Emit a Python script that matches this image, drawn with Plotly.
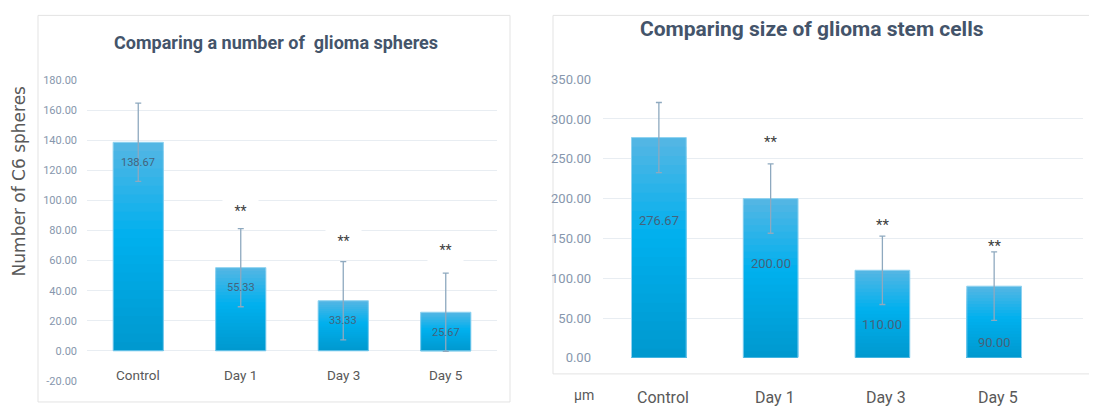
import plotly.graph_objects as go

# ---------------- data ----------------
categories = ["Control", "Day 1", "Day 3", "Day 5"]
spheres_mean = [138.67, 55.33, 33.33, 25.67]
spheres_err = [26, 26, 26, 26]
size_mean = [276.67, 200.00, 110.00, 90.00]
size_err = [44, 43.5, 43, 43]
significance = ["", "**", "**", "**"]
left_ticks = [-20, 0, 20, 40, 60, 80, 100, 120, 140, 160, 180]
right_ticks = [0, 50, 100, 150, 200, 250, 300, 350]
left_title = "Comparing a number of  glioma spheres"
right_title = "Comparing size of glioma stem cells"
left_ylabel = "Number of C6 spheres"
right_unit = "µm"

# ---------------- style / layout ----------------
W, H = 1097, 410
# observed mapping of figure pixels onto the photographed page
OFF_X, OFF_Y, EFF_H = 8, 16, 394
SY = EFF_H / H


def fx(px):
    return (px - OFF_X) / W


def fy(py):
    return 1 - (py - OFF_Y) / EFF_H


FONT = "Roboto, Arial, sans-serif"
TITLE_C = "#44546a"
TICK_C = "#8797ad"
CAT_C = "#595959"
VAL_C = "#44637c"
GRID_C = "#e8edf2"
ERR_C = "#8ea9bf"
BAR_W = 0.49
N_SEG = 24

left_val_shift = [-19, -19, -19, -19]
right_val_shift = [-80, -62, -52, -54]
left_star_shift = [0, 17, 20, 22]
right_star_shift = [0, 21, 11, 6]

stops = [(0.0, (0, 152, 206)), (0.55, (0, 176, 238)), (1.0, (86, 182, 228))]


def grad_color(t):
    for (t0, c0), (t1, c1) in zip(stops[:-1], stops[1:]):
        if t <= t1:
            f = (t - t0) / (t1 - t0)
            c = [round(a + (b - a) * f) for a, b in zip(c0, c1)]
            return "rgb(%d,%d,%d)" % tuple(c)
    return "rgb(%d,%d,%d)" % stops[-1][1]


fig = go.Figure()


def add_bars(vals, errs, xa, ya):
    for k in range(N_SEG):
        frac_top = (N_SEG - k) / N_SEG
        col = grad_color((N_SEG - k - 0.5) / N_SEG)
        fig.add_trace(go.Bar(
            x=categories, y=[v * frac_top for v in vals], width=BAR_W,
            marker=dict(color=col, line=dict(width=0)),
            xaxis=xa, yaxis=ya, showlegend=False, hoverinfo="skip"))
    fig.add_trace(go.Bar(
        x=categories, y=vals, width=BAR_W,
        marker=dict(color="rgba(0,0,0,0)", line=dict(color="#8fd2f0", width=1)),
        error_y=dict(type="data", array=errs, color=ERR_C, thickness=1.3, width=3),
        xaxis=xa, yaxis=ya, showlegend=False))


add_bars(spheres_mean, spheres_err, "x", "y")
add_bars(size_mean, size_err, "x2", "y2")

ann = []

for c, v, s in zip(categories, spheres_mean, left_val_shift):
    ann.append(dict(x=c, y=v, xref="x", yref="y", text="%.2f" % v, showarrow=False,
                    xanchor="center", yshift=s / SY,
                    font=dict(family=FONT, size=11, color=VAL_C)))
for c, v, s in zip(categories, size_mean, right_val_shift):
    ann.append(dict(x=c, y=v, xref="x2", yref="y2", text="%.2f" % v, showarrow=False,
                    xanchor="center", yshift=s / SY,
                    font=dict(family=FONT, size=13, color=VAL_C)))

for c, v, e, sig, s in zip(categories, spheres_mean, spheres_err, significance, left_star_shift):
    if sig:
        ann.append(dict(x=c, y=v + e, xref="x", yref="y", text=sig, showarrow=False,
                        xanchor="center", yshift=s / SY, bgcolor="white", width=33, height=26,
                        font=dict(family=FONT, size=14, color="#404040")))
for c, v, e, sig, s in zip(categories, size_mean, size_err, significance, right_star_shift):
    if sig:
        ann.append(dict(x=c, y=v + e, xref="x2", yref="y2", text=sig, showarrow=False,
                        xanchor="center", yshift=s / SY,
                        font=dict(family=FONT, size=15, color="#404040")))

for c in categories:
    ann.append(dict(x=c, y=fy(375), xref="x", yref="paper", text=c, showarrow=False,
                    xanchor="center", yanchor="middle",
                    font=dict(family=FONT, size=13.5, color=CAT_C)))
    ann.append(dict(x=c, y=fy(398), xref="x2", yref="paper", text=c, showarrow=False,
                    xanchor="center", yanchor="middle", xshift=4,
                    font=dict(family=FONT, size=16, color=CAT_C)))

ann.append(dict(x=fx(276), y=fy(43), xref="paper", yref="paper",
                text="<b>%s</b>" % left_title, showarrow=False,
                xanchor="center", yanchor="middle",
                font=dict(family=FONT, size=18, color=TITLE_C)))
ann.append(dict(x=fx(812), y=fy(30), xref="paper", yref="paper",
                text="<b>%s</b>" % right_title, showarrow=False,
                xanchor="center", yanchor="middle",
                font=dict(family=FONT, size=21, color=TITLE_C)))
ann.append(dict(x=fx(19), y=fy(182), xref="paper", yref="paper",
                text=left_ylabel, textangle=-90, showarrow=False,
                xanchor="center", yanchor="middle",
                font=dict(family="DejaVu Sans, sans-serif", size=17, color=CAT_C)))
ann.append(dict(x=fx(584), y=fy(395), xref="paper", yref="paper",
                text=right_unit, showarrow=False, xanchor="center", yanchor="middle",
                font=dict(family=FONT, size=14, color=CAT_C)))

shapes = [
    dict(type="rect", xref="paper", yref="paper", x0=fx(38), x1=fx(510),
         y0=fy(402), y1=min(fy(10), 0.999), line=dict(color="#e3e3e3", width=1), layer="below"),
    dict(type="rect", xref="paper", yref="paper", x0=fx(553), x1=1.02,
         y0=fy(374), y1=min(fy(10), 0.999), line=dict(color="#e3e3e3", width=1), layer="below"),
]

fig.update_layout(
    width=W, height=H, margin=dict(l=0, r=0, t=0, b=0),
    paper_bgcolor="white", plot_bgcolor="white",
    barmode="overlay", showlegend=False,
    annotations=ann, shapes=shapes,
    xaxis=dict(domain=[fx(87), fx(497)], type="category", range=[-0.5, 3.5],
               showticklabels=False, showgrid=False, zeroline=False, showline=False),
    yaxis=dict(domain=[fy(381), fy(81)], range=[-20, 180],
               tickvals=left_ticks, ticktext=["%.2f" % t for t in left_ticks],
               showgrid=True, gridcolor=GRID_C, gridwidth=1, zeroline=False,
               ticks="", ticklabelstandoff=9,
               tickfont=dict(family=FONT, size=11, color=TICK_C)),
    xaxis2=dict(domain=[fx(603), fx(1083)], type="category", range=[-0.5, 3.795],
                anchor="y2", showticklabels=False, showgrid=False, zeroline=False,
                showline=False),
    yaxis2=dict(domain=[fy(358), fy(80)], range=[0, 350], anchor="x2",
                tickvals=right_ticks, ticktext=["%.2f" % t for t in right_ticks],
                showgrid=True, gridcolor=GRID_C, gridwidth=1, zeroline=False,
                ticks="", ticklabelstandoff=11,
                tickfont=dict(family=FONT, size=13, color=TICK_C)),
)

fig.write_html("out.html")
